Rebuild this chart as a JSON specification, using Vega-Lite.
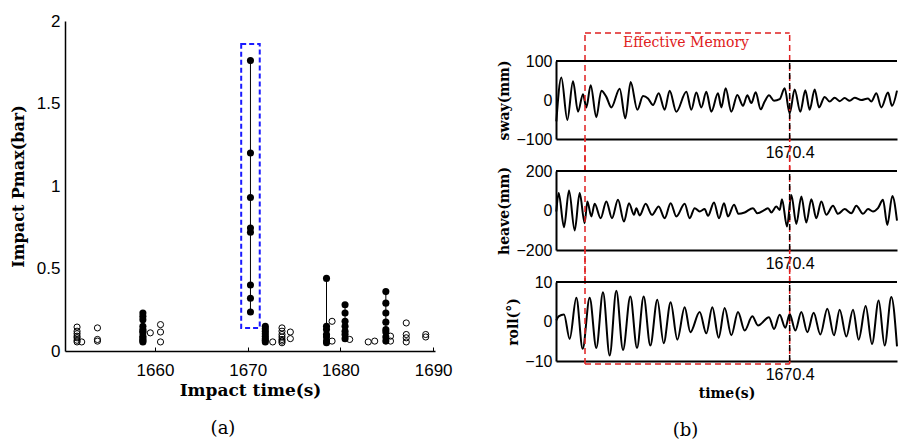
{
  "$schema": "https://vega.github.io/schema/vega-lite/v6.json",
  "background": "white",
  "padding": {"left": 10, "top": 12, "right": 0, "bottom": 0},
  "spacing": 121,
  "bounds": "flush",
  "config": {
    "view": {"stroke": null},
    "axis": {"grid": false, "domainColor": "black", "labelColor": "black", "titleColor": "black", "tickColor": "black", "labelFont": "Liberation Sans", "titleFont": "DejaVu Serif", "titleFontWeight": "bold", "labelOverlap": false},
    "title": {"font": "DejaVu Serif", "fontSize": 18, "fontWeight": "normal", "color": "black"}
  },
  "datasets": {
    "impacts": [
      {"t": 1651.6, "p": 0.145, "k": "o", "g": "a"}, {"t": 1651.6, "p": 0.12, "k": "o", "g": "a"}, {"t": 1651.6, "p": 0.105, "k": "o", "g": "a"}, {"t": 1651.6, "p": 0.09, "k": "o", "g": "a"}, {"t": 1651.6, "p": 0.08, "k": "o", "g": "a"}, {"t": 1651.6, "p": 0.065, "k": "o", "g": "a"}, {"t": 1651.6, "p": 0.055, "k": "o", "g": "a"}, {"t": 1652.1, "p": 0.055, "k": "o", "g": "b"},
      {"t": 1653.8, "p": 0.14, "k": "o", "g": "c"}, {"t": 1653.8, "p": 0.07, "k": "o", "g": "c"}, {"t": 1653.8, "p": 0.06, "k": "o", "g": "c"},
      {"t": 1658.7, "p": 0.23, "k": "f", "g": "d"}, {"t": 1658.7, "p": 0.21, "k": "f", "g": "d"}, {"t": 1658.7, "p": 0.19, "k": "f", "g": "d"}, {"t": 1658.7, "p": 0.15, "k": "f", "g": "d"}, {"t": 1658.7, "p": 0.13, "k": "f", "g": "d"}, {"t": 1658.7, "p": 0.12, "k": "f", "g": "d"}, {"t": 1658.7, "p": 0.11, "k": "f", "g": "d"}, {"t": 1658.7, "p": 0.09, "k": "f", "g": "d"}, {"t": 1658.7, "p": 0.08, "k": "f", "g": "d"}, {"t": 1658.7, "p": 0.07, "k": "f", "g": "d"}, {"t": 1658.7, "p": 0.06, "k": "f", "g": "d"}, {"t": 1658.7, "p": 0.055, "k": "f", "g": "d"},
      {"t": 1659.5, "p": 0.11, "k": "o", "g": "e"},
      {"t": 1660.6, "p": 0.16, "k": "o", "g": "f"}, {"t": 1660.6, "p": 0.115, "k": "o", "g": "f"}, {"t": 1660.6, "p": 0.055, "k": "o", "g": "f"},
      {"t": 1670.3, "p": 1.76, "k": "f", "g": "h"}, {"t": 1670.3, "p": 1.2, "k": "f", "g": "h"}, {"t": 1670.3, "p": 0.93, "k": "f", "g": "h"}, {"t": 1670.3, "p": 0.745, "k": "f", "g": "h"}, {"t": 1670.3, "p": 0.72, "k": "f", "g": "h"}, {"t": 1670.3, "p": 0.4, "k": "f", "g": "h"}, {"t": 1670.3, "p": 0.32, "k": "f", "g": "h"}, {"t": 1670.3, "p": 0.236, "k": "f", "g": "h"},
      {"t": 1671.9, "p": 0.15, "k": "f", "g": "i"}, {"t": 1671.9, "p": 0.135, "k": "f", "g": "i"}, {"t": 1671.9, "p": 0.12, "k": "f", "g": "i"}, {"t": 1671.9, "p": 0.105, "k": "f", "g": "i"}, {"t": 1671.9, "p": 0.09, "k": "f", "g": "i"}, {"t": 1671.9, "p": 0.075, "k": "f", "g": "i"}, {"t": 1671.9, "p": 0.065, "k": "f", "g": "i"}, {"t": 1671.9, "p": 0.055, "k": "f", "g": "i"},
      {"t": 1672.7, "p": 0.055, "k": "o", "g": "j"},
      {"t": 1673.7, "p": 0.14, "k": "o", "g": "k"}, {"t": 1673.7, "p": 0.12, "k": "o", "g": "k"}, {"t": 1673.7, "p": 0.1, "k": "o", "g": "k"}, {"t": 1673.7, "p": 0.085, "k": "o", "g": "k"}, {"t": 1673.7, "p": 0.07, "k": "o", "g": "k"}, {"t": 1673.7, "p": 0.06, "k": "o", "g": "k"}, {"t": 1673.7, "p": 0.05, "k": "o", "g": "k"},
      {"t": 1674.6, "p": 0.115, "k": "o", "g": "l"}, {"t": 1674.6, "p": 0.075, "k": "o", "g": "l"},
      {"t": 1678.5, "p": 0.44, "k": "f", "g": "m"}, {"t": 1678.5, "p": 0.15, "k": "f", "g": "m"}, {"t": 1678.5, "p": 0.13, "k": "f", "g": "m"}, {"t": 1678.5, "p": 0.1, "k": "f", "g": "m"}, {"t": 1678.5, "p": 0.085, "k": "f", "g": "m"}, {"t": 1678.5, "p": 0.06, "k": "f", "g": "m"}, {"t": 1678.5, "p": 0.05, "k": "f", "g": "m"},
      {"t": 1679.1, "p": 0.18, "k": "o", "g": "n"}, {"t": 1679.1, "p": 0.06, "k": "o", "g": "n"},
      {"t": 1680.5, "p": 0.28, "k": "f", "g": "q"}, {"t": 1680.5, "p": 0.23, "k": "f", "g": "q"}, {"t": 1680.5, "p": 0.18, "k": "f", "g": "q"}, {"t": 1680.5, "p": 0.15, "k": "f", "g": "q"}, {"t": 1680.5, "p": 0.12, "k": "f", "g": "q"}, {"t": 1680.5, "p": 0.1, "k": "f", "g": "q"}, {"t": 1680.5, "p": 0.075, "k": "f", "g": "q"},
      {"t": 1681.0, "p": 0.07, "k": "o", "g": "r"},
      {"t": 1683.0, "p": 0.055, "k": "o", "g": "s"}, {"t": 1683.7, "p": 0.06, "k": "o", "g": "u"},
      {"t": 1684.9, "p": 0.36, "k": "f", "g": "w"}, {"t": 1684.9, "p": 0.29, "k": "f", "g": "w"}, {"t": 1684.9, "p": 0.23, "k": "f", "g": "w"}, {"t": 1684.9, "p": 0.175, "k": "f", "g": "w"}, {"t": 1684.9, "p": 0.13, "k": "f", "g": "w"}, {"t": 1684.9, "p": 0.115, "k": "f", "g": "w"}, {"t": 1684.9, "p": 0.085, "k": "f", "g": "w"}, {"t": 1684.9, "p": 0.06, "k": "f", "g": "w"},
      {"t": 1685.4, "p": 0.09, "k": "o", "g": "x"}, {"t": 1685.4, "p": 0.06, "k": "o", "g": "x"},
      {"t": 1687.1, "p": 0.17, "k": "o", "g": "y"}, {"t": 1687.1, "p": 0.1, "k": "o", "g": "y"}, {"t": 1687.1, "p": 0.08, "k": "o", "g": "y"}, {"t": 1687.1, "p": 0.055, "k": "o", "g": "y"},
      {"t": 1689.2, "p": 0.1, "k": "o", "g": "z"}, {"t": 1689.2, "p": 0.085, "k": "o", "g": "z"}
    ],
    "sway": [
      {"t": 1642.4, "v": -55}, {"t": 1643.0, "v": 58}, {"t": 1643.72, "v": -51}, {"t": 1644.4, "v": 48}, {"t": 1645.0, "v": -30}, {"t": 1645.6, "v": 15}, {"t": 1646.0, "v": -19}, {"t": 1646.52, "v": 38}, {"t": 1647.2, "v": -44}, {"t": 1647.8, "v": 24}, {"t": 1648.4, "v": 8}, {"t": 1649.0, "v": -19}, {"t": 1650.0, "v": 29}, {"t": 1650.68, "v": -47}, {"t": 1651.32, "v": 46}, {"t": 1652.12, "v": -25}, {"t": 1652.8, "v": 10}, {"t": 1653.4, "v": 4}, {"t": 1654.0, "v": -13}, {"t": 1654.68, "v": 17}, {"t": 1655.4, "v": -25}, {"t": 1656.0, "v": 24}, {"t": 1656.8, "v": -30}, {"t": 1658.0, "v": 21}, {"t": 1658.6, "v": -25}, {"t": 1659.2, "v": 19}, {"t": 1659.8, "v": -19}, {"t": 1660.4, "v": 21}, {"t": 1661.0, "v": -30}, {"t": 1661.8, "v": 17}, {"t": 1662.2, "v": -19}, {"t": 1662.72, "v": 30}, {"t": 1663.4, "v": -30}, {"t": 1664.12, "v": 13}, {"t": 1664.8, "v": -15}, {"t": 1665.32, "v": 12}, {"t": 1665.8, "v": -8}, {"t": 1666.32, "v": 20}, {"t": 1666.92, "v": -24}, {"t": 1667.4, "v": -4}, {"t": 1667.92, "v": 12}, {"t": 1668.52, "v": -2}, {"t": 1669.2, "v": 2}, {"t": 1669.8, "v": 30}, {"t": 1670.4, "v": -34}, {"t": 1671.0, "v": 27}, {"t": 1671.68, "v": -30}, {"t": 1672.28, "v": 25}, {"t": 1672.8, "v": -25}, {"t": 1673.4, "v": 27}, {"t": 1673.92, "v": -19}, {"t": 1674.6, "v": 8}, {"t": 1675.2, "v": -4}, {"t": 1675.8, "v": 6}, {"t": 1676.4, "v": -3}, {"t": 1677.0, "v": 5}, {"t": 1677.6, "v": -2}, {"t": 1678.2, "v": 6}, {"t": 1679.0, "v": 0}, {"t": 1679.8, "v": 4}, {"t": 1680.2, "v": -4}, {"t": 1680.8, "v": 17}, {"t": 1681.4, "v": -19}, {"t": 1682.2, "v": 19}, {"t": 1682.68, "v": -15}, {"t": 1683.28, "v": 24}
    ],
    "heave": [
      {"t": 1642.4, "v": -5}, {"t": 1642.68, "v": 88}, {"t": 1643.32, "v": -85}, {"t": 1643.92, "v": 101}, {"t": 1644.6, "v": -101}, {"t": 1645.2, "v": 88}, {"t": 1645.8, "v": -64}, {"t": 1646.12, "v": 46}, {"t": 1646.6, "v": -30}, {"t": 1647.0, "v": 34}, {"t": 1647.72, "v": -39}, {"t": 1648.4, "v": 46}, {"t": 1649.08, "v": -39}, {"t": 1649.8, "v": 54}, {"t": 1650.52, "v": -56}, {"t": 1651.12, "v": 37}, {"t": 1651.72, "v": -22}, {"t": 1652.0, "v": 12}, {"t": 1652.4, "v": -25}, {"t": 1653.12, "v": 34}, {"t": 1653.88, "v": -22}, {"t": 1654.68, "v": 20}, {"t": 1655.4, "v": -39}, {"t": 1656.12, "v": 37}, {"t": 1656.8, "v": -30}, {"t": 1657.8, "v": 34}, {"t": 1658.4, "v": -39}, {"t": 1659.0, "v": 12}, {"t": 1659.6, "v": -5}, {"t": 1660.2, "v": 7}, {"t": 1660.6, "v": -27}, {"t": 1661.32, "v": 41}, {"t": 1661.92, "v": -39}, {"t": 1662.52, "v": 37}, {"t": 1663.0, "v": -30}, {"t": 1663.72, "v": 29}, {"t": 1664.28, "v": -17}, {"t": 1665.0, "v": -10}, {"t": 1666.0, "v": 12}, {"t": 1666.52, "v": -14}, {"t": 1667.4, "v": 3}, {"t": 1667.8, "v": 12}, {"t": 1668.2, "v": -10}, {"t": 1668.8, "v": 20}, {"t": 1669.2, "v": 3}, {"t": 1669.48, "v": 57}, {"t": 1670.08, "v": -81}, {"t": 1670.6, "v": 79}, {"t": 1671.2, "v": -68}, {"t": 1671.8, "v": 71}, {"t": 1672.4, "v": -61}, {"t": 1673.0, "v": 57}, {"t": 1673.6, "v": -39}, {"t": 1674.2, "v": 46}, {"t": 1674.8, "v": -22}, {"t": 1675.6, "v": 24}, {"t": 1676.2, "v": -17}, {"t": 1677.0, "v": 7}, {"t": 1677.8, "v": -14}, {"t": 1678.4, "v": 24}, {"t": 1679.2, "v": -17}, {"t": 1679.8, "v": 7}, {"t": 1680.4, "v": -5}, {"t": 1681.0, "v": 12}, {"t": 1681.6, "v": 54}, {"t": 1682.12, "v": -73}, {"t": 1682.72, "v": 74}, {"t": 1683.28, "v": -51}
    ],
    "roll": [
      {"t": 1642.4, "v": 0.3}, {"t": 1642.68, "v": 1.3}, {"t": 1643.32, "v": 1.8}, {"t": 1644.0, "v": -4.4}, {"t": 1644.8, "v": 6.0}, {"t": 1645.56, "v": -6.9}, {"t": 1646.4, "v": 6.0}, {"t": 1647.2, "v": -6.7}, {"t": 1648.0, "v": 7.4}, {"t": 1648.8, "v": -8.6}, {"t": 1649.6, "v": 7.8}, {"t": 1650.4, "v": -7.2}, {"t": 1651.28, "v": 6.3}, {"t": 1652.08, "v": -6.7}, {"t": 1652.88, "v": 6.3}, {"t": 1653.68, "v": -6.1}, {"t": 1654.52, "v": 5.5}, {"t": 1655.28, "v": -5.5}, {"t": 1656.12, "v": 4.9}, {"t": 1656.92, "v": -4.6}, {"t": 1657.8, "v": 3.6}, {"t": 1658.48, "v": -2.7}, {"t": 1659.6, "v": 2.4}, {"t": 1660.4, "v": -3.0}, {"t": 1661.12, "v": 3.6}, {"t": 1661.88, "v": -4.1}, {"t": 1662.6, "v": 3.4}, {"t": 1663.4, "v": -3.5}, {"t": 1664.2, "v": 2.4}, {"t": 1665.0, "v": -2.3}, {"t": 1665.92, "v": 1.3}, {"t": 1666.6, "v": -1.0}, {"t": 1667.92, "v": 1.1}, {"t": 1668.52, "v": -1.9}, {"t": 1669.2, "v": 1.7}, {"t": 1669.88, "v": -1.6}, {"t": 1670.4, "v": 1.9}, {"t": 1671.08, "v": -2.3}, {"t": 1671.8, "v": 2.4}, {"t": 1672.52, "v": -2.7}, {"t": 1673.28, "v": 2.2}, {"t": 1674.08, "v": -3.3}, {"t": 1674.92, "v": 3.2}, {"t": 1675.72, "v": -3.5}, {"t": 1676.4, "v": 3.0}, {"t": 1677.2, "v": -3.8}, {"t": 1678.0, "v": 3.0}, {"t": 1678.68, "v": -4.6}, {"t": 1679.52, "v": 3.9}, {"t": 1680.28, "v": -5.7}, {"t": 1681.08, "v": 5.3}, {"t": 1681.8, "v": -6.1}, {"t": 1682.6, "v": 6.2}, {"t": 1683.28, "v": -6.3}
    ]
  },
  "hconcat": [
    {
      "width": 370,
      "height": 330,
      "title": {"text": "(a)", "orient": "bottom", "anchor": "middle", "dx": -27, "offset": 22},
      "data": {"name": "impacts"},
      "encoding": {
        "x": {"field": "t", "type": "quantitative", "title": "Impact time(s)", "scale": {"domain": [1650.3, 1690.2], "nice": false, "zero": false}, "axis": {"values": [1660, 1670, 1680, 1690], "format": "d", "labelFontSize": 17, "labelPadding": 15, "tickSize": -4, "titleFontSize": 17, "titlePadding": 4, "domainWidth": 1.5}},
        "y": {"field": "p", "type": "quantitative", "title": "Impact Pmax(bar)", "scale": {"domain": [0, 2], "nice": false}, "axis": {"values": [0, 0.5, 1, 1.5, 2], "format": "~g", "labelFontSize": 17, "ticks": false, "labelPadding": 5, "titleFontSize": 16, "titlePadding": 10, "domainWidth": 1.5}}
      },
      "layer": [
        {"transform": [{"filter": "datum.k == 'f'"}], "mark": {"type": "line", "color": "black", "strokeWidth": 1}, "encoding": {"detail": {"field": "g"}, "order": {"field": "p", "type": "quantitative"}}},
        {"transform": [{"filter": "datum.k == 'f'"}], "mark": {"type": "circle", "color": "black", "opacity": 1, "size": 50}},
        {"transform": [{"filter": "datum.k == 'o'"}], "mark": {"type": "point", "shape": "circle", "filled": false, "color": "black", "strokeWidth": 1, "size": 38, "opacity": 1}},
        {"data": {"values": [{"t": 1669.3, "t2": 1671.3, "p": 0.14, "p2": 1.86}]}, "mark": {"type": "rect", "fill": null, "stroke": "#1a1aff", "strokeWidth": 2, "strokeDash": [5, 3]}, "encoding": {"x2": {"field": "t2"}, "y2": {"field": "p2"}}}
      ]
    },
    {
      "spacing": 32,
      "bounds": "flush",
      "vconcat": [
        {"width": 341, "height": 8, "data": {"values": [{"a": 1}]}, "mark": {"type": "text", "text": " "}, "encoding": {}},
        {
          "width": 341, "height": 78,
          "encoding": {
            "x": {"field": "t", "type": "quantitative", "title": null, "scale": {"domain": [1642.36, 1683.28], "nice": false, "zero": false}, "axis": {"values": [1670.4], "format": ".1f", "ticks": false, "labelFontSize": 16, "labelPadding": 5, "domainWidth": 2}},
            "y": {"field": "v", "type": "quantitative", "title": "sway(mm)", "scale": {"domain": [-100, 100], "nice": false, "zero": false}, "axis": {"values": [-100, 0, 100], "tickCount": 3, "ticks": false, "labelFontSize": 16, "labelPadding": 4, "titleFontSize": 14, "titlePadding": 4, "domainWidth": 2, "labelOverlap": false}}
          },
          "layer": [
            {"data": {"name": "sway"}, "mark": {"type": "line", "interpolate": "monotone", "color": "black", "strokeWidth": 2}},
            {"data": {"values": [{"t": 1645.84, "v": -182, "v2": 171.8}, {"t": 1670.4, "v": -182, "v2": 171.8}]}, "mark": {"type": "rule", "color": "#e02020", "strokeWidth": 1.5, "strokeDash": [6, 4]}, "encoding": {"y2": {"field": "v2"}}},
            {"data": {"values": [{"t": 1645.84, "t2": 1670.4, "v": 171.8}]}, "mark": {"type": "rule", "color": "#e02020", "strokeWidth": 1.5, "strokeDash": [6, 4]}, "encoding": {"x2": {"field": "t2"}}},
            {"data": {"values": [{"t": 1657.96, "v": 146, "label": "Effective Memory"}]}, "mark": {"type": "text", "color": "#e02020", "font": "DejaVu Serif", "fontSize": 14, "baseline": "middle", "align": "center"}, "encoding": {"text": {"field": "label"}}},
            {"data": {"values": [{"t": 1670.4, "v": -100, "v2": 100}]}, "mark": {"type": "rule", "color": "black", "strokeWidth": 1.5, "strokeDash": [6, 4]}, "encoding": {"y2": {"field": "v2"}}},
            {"data": {"values": [{"t": 1642.36, "t2": 1683.28, "v": 100}]}, "mark": {"type": "rule", "color": "black", "strokeWidth": 2}, "encoding": {"x2": {"field": "t2"}}}
          ]
        },
        {
          "width": 341, "height": 79,
          "encoding": {
            "x": {"field": "t", "type": "quantitative", "title": null, "scale": {"domain": [1642.36, 1683.28], "nice": false, "zero": false}, "axis": {"values": [1670.4], "format": ".1f", "ticks": false, "labelFontSize": 16, "labelPadding": 5, "domainWidth": 2}},
            "y": {"field": "v", "type": "quantitative", "title": "heave(mm)", "scale": {"domain": [-200, 200], "nice": false, "zero": false}, "axis": {"values": [-200, 0, 200], "tickCount": 3, "ticks": false, "labelFontSize": 16, "labelPadding": 4, "titleFontSize": 14, "titlePadding": 4, "domainWidth": 2, "labelOverlap": false}}
          },
          "layer": [
            {"data": {"name": "heave"}, "mark": {"type": "line", "interpolate": "monotone", "color": "black", "strokeWidth": 2}},
            {"data": {"values": [{"t": 1645.84, "v": -362, "v2": 362}, {"t": 1670.4, "v": -362, "v2": 362}]}, "mark": {"type": "rule", "color": "#e02020", "strokeWidth": 1.5, "strokeDash": [6, 4]}, "encoding": {"y2": {"field": "v2"}}},
            {"data": {"values": [{"t": 1670.4, "v": -200, "v2": 200}]}, "mark": {"type": "rule", "color": "black", "strokeWidth": 1.5, "strokeDash": [6, 4]}, "encoding": {"y2": {"field": "v2"}}},
            {"data": {"values": [{"t": 1642.36, "t2": 1683.28, "v": 200}]}, "mark": {"type": "rule", "color": "black", "strokeWidth": 2}, "encoding": {"x2": {"field": "t2"}}}
          ]
        },
        {
          "width": 341, "height": 79,
          "title": {"text": "(b)", "orient": "bottom", "anchor": "middle", "dx": -41, "offset": 22},
          "encoding": {
            "x": {"field": "t", "type": "quantitative", "title": "time(s)", "scale": {"domain": [1642.36, 1683.28], "nice": false, "zero": false}, "axis": {"values": [1670.4], "format": ".1f", "ticks": false, "labelFontSize": 16, "labelPadding": 5, "domainWidth": 2, "titleFontSize": 14, "titlePadding": 4}},
            "y": {"field": "v", "type": "quantitative", "title": "roll(°)", "scale": {"domain": [-10, 10], "nice": false, "zero": false}, "axis": {"values": [-10, 0, 10], "tickCount": 3, "ticks": false, "labelFontSize": 16, "labelPadding": 4, "titleFontSize": 14, "titlePadding": 4, "domainWidth": 2, "labelOverlap": false}}
          },
          "layer": [
            {"data": {"name": "roll"}, "mark": {"type": "line", "interpolate": "monotone", "color": "black", "strokeWidth": 2}},
            {"data": {"values": [{"t": 1645.84, "v": -10.76, "v2": 18.1}, {"t": 1670.4, "v": -10.76, "v2": 18.1}]}, "mark": {"type": "rule", "color": "#e02020", "strokeWidth": 1.5, "strokeDash": [6, 4]}, "encoding": {"y2": {"field": "v2"}}},
            {"data": {"values": [{"t": 1645.84, "t2": 1670.4, "v": -10.76}]}, "mark": {"type": "rule", "color": "#e02020", "strokeWidth": 1.5, "strokeDash": [6, 4]}, "encoding": {"x2": {"field": "t2"}}},
            {"data": {"values": [{"t": 1670.4, "v": -10, "v2": 10}]}, "mark": {"type": "rule", "color": "black", "strokeWidth": 1.5, "strokeDash": [6, 4]}, "encoding": {"y2": {"field": "v2"}}},
            {"data": {"values": [{"t": 1642.36, "t2": 1683.28, "v": 10}]}, "mark": {"type": "rule", "color": "black", "strokeWidth": 2}, "encoding": {"x2": {"field": "t2"}}}
          ]
        }
      ]
    }
  ]
}
